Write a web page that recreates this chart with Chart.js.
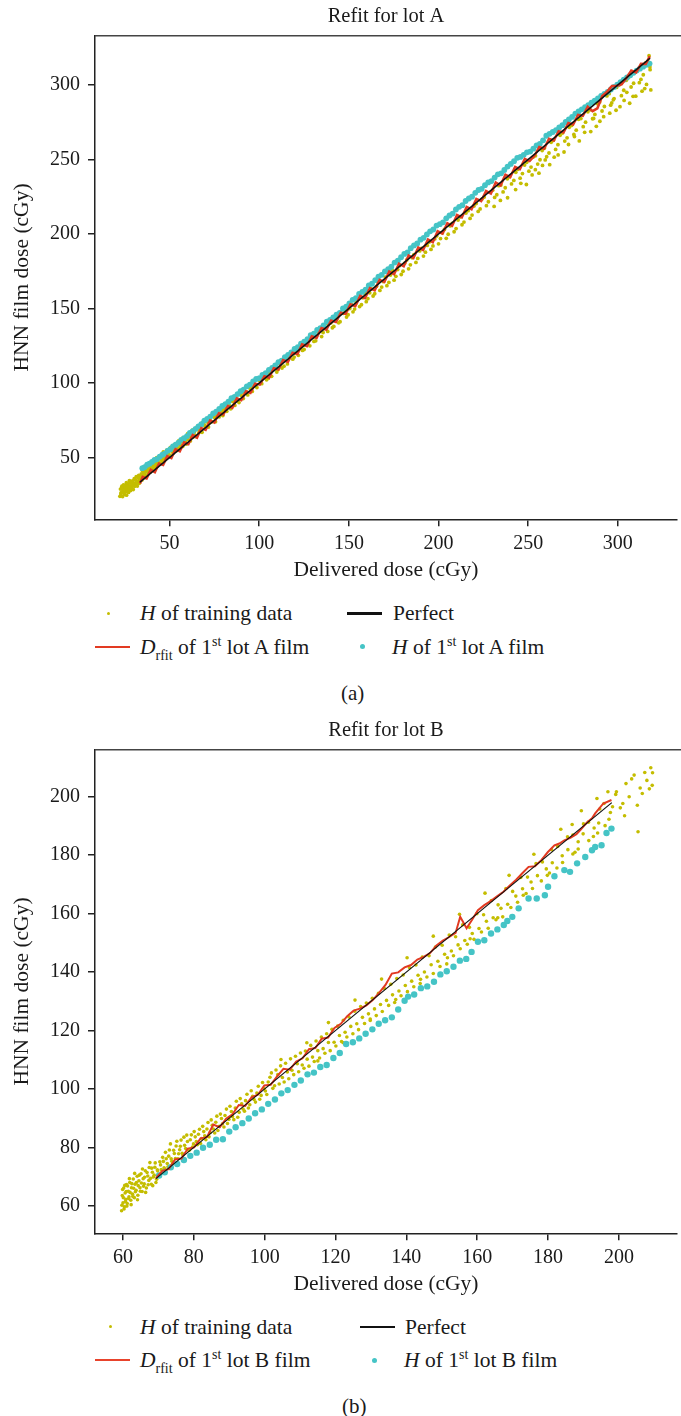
<!DOCTYPE html>
<html>
<head>
<meta charset="utf-8">
<title>Refit for lot A / lot B</title>
<script src="https://cdn.jsdelivr.net/npm/chart.js@4.4.1/dist/chart.umd.min.js"></script>
<style>
  html, body { margin: 0; padding: 0; background: #fff; }
  body {
    width: 681px; height: 1416px; position: relative; overflow: hidden;
    font-family: "Liberation Serif", "Times New Roman", serif; color: #1a1a1a;
  }
  canvas { position: absolute; left: 0; }
  #chartA { top: 0; }
  #chartB { top: 714px; }
  .lg { position: absolute; font-size: 21.5px; line-height: 24px; white-space: nowrap; }
  .lg i { font-style: italic; }
  .lg .sb { font-size: 14px; position: relative; top: 6px; line-height: 0; }
  .lg .sp { font-size: 14px; position: relative; top: -8px; line-height: 0; }
  .dot { position: absolute; border-radius: 50%; }
  .ln { position: absolute; }
  .cap { position: absolute; font-size: 21px; line-height: 24px; }
</style>
</head>
<body>

<canvas id="chartA" width="681" height="590"></canvas>
<canvas id="chartB" width="681" height="590"></canvas>

<!-- legend (a) -->
<span class="dot" style="left:107px; top:611.5px; width:3px; height:3px; background:#c4bd00"></span>
<span class="lg" style="left:140px; top:601px"><i>H</i> of training data</span>
<span class="ln" style="left:347px; top:612px; width:35px; height:2.5px; background:#111"></span>
<span class="lg" style="left:393px; top:601px">Perfect</span>
<span class="ln" style="left:95px; top:645.5px; width:35px; height:2.5px; background:#e23a22"></span>
<span class="lg" style="left:140px; top:635px"><i>D</i><span class="sb">rfit</span> of 1<span class="sp">st</span> lot A film</span>
<span class="dot" style="left:359.5px; top:644px; width:5px; height:5px; background:#45c4c6"></span>
<span class="lg" style="left:392px; top:635px"><i>H</i> of 1<span class="sp">st</span> lot A film</span>
<span class="cap" style="left:341px; top:681px">(a)</span>

<!-- legend (b) -->
<span class="dot" style="left:108.5px; top:1325px; width:3px; height:3px; background:#c4bd00"></span>
<span class="lg" style="left:140px; top:1315px"><i>H</i> of training data</span>
<span class="ln" style="left:360px; top:1326px; width:35px; height:1.5px; background:#111"></span>
<span class="lg" style="left:405px; top:1315px">Perfect</span>
<span class="ln" style="left:95px; top:1359px; width:35px; height:1.5px; background:#e8432c"></span>
<span class="lg" style="left:140px; top:1348px"><i>D</i><span class="sb">rfit</span> of 1<span class="sp">st</span> lot B film</span>
<span class="dot" style="left:372px; top:1357.5px; width:5px; height:5px; background:#45c4c6"></span>
<span class="lg" style="left:404px; top:1348px"><i>H</i> of 1<span class="sp">st</span> lot B film</span>
<span class="cap" style="left:342px; top:1394px">(b)</span>

<script>
// ---------- data: [delivered dose, HNN film dose] in cGy ----------

// panel (a)
const trainA = [
  [22.3,24.0],[22.6,28.9],[23.0,26.5],[23.4,30.8],[23.8,23.9],[24.1,27.7],[24.5,29.6],[24.9,25.3],
  [25.2,31.4],[25.6,27.2],[26.0,24.8],[26.3,29.9],[26.7,32.1],[27.1,26.6],[27.5,29.1],[27.8,33.0],
  [28.2,27.9],[28.6,31.2],[29.0,29.4],[29.3,34.3],[29.7,28.6],[30.1,32.5],[30.5,30.7],[30.8,35.4],
  [31.2,31.6],[31.6,33.9],[32.0,30.9],[32.3,36.8],[32.7,34.5],[33.1,32.7],[33.5,37.6],[33.8,35.1],
  [34.2,39.0],[34.6,34.9],[35.0,37.8],[35.4,40.6],[35.7,36.4],[36.1,39.3],[36.5,42.0],[36.9,37.7],
  [37.3,40.9],[37.6,43.4],[38.0,39.6],[38.4,42.7],[38.8,44.1],[39.2,40.4],[39.6,43.8],[40.0,46.0],
  [40.4,41.9],[40.8,45.1],[41.3,47.2],[41.7,43.4],[42.1,46.5],[42.6,48.8],[43.0,44.7],[43.5,47.6],
  [43.9,50.1],[44.4,46.0],[44.8,49.2],[45.3,51.0],[45.8,47.5],[46.2,50.4],[46.7,52.6],[47.2,48.9],
  [47.7,51.7],[48.2,53.9],[48.7,50.2],[49.2,53.0],[49.7,55.1],[50.2,51.6],[50.8,54.5],[51.3,56.7],
  [51.9,53.0],[52.4,55.8],[53.0,57.9],[53.6,54.6],[54.2,57.3],[54.8,59.4],[55.4,56.0],[56.0,58.8],
  [56.7,61.0],[57.3,57.5],[58.0,60.6],[58.7,62.4],[59.4,59.1],[60.1,62.2],[60.8,64.3],[61.6,61.2],
  [62.3,66.0],[63.1,63.8],[63.9,67.5],[64.7,64.1],[65.5,69.3],[66.4,66.9],[67.2,70.6],[68.1,67.0],
  [69.0,72.4],[69.9,70.8],[70.8,73.9],[71.7,70.5],[72.7,76.2],[73.6,74.0],[74.6,77.8],[75.6,74.1],
  [76.6,79.9],[77.6,77.3],[78.7,81.4],[79.7,78.2],[80.8,83.9],[81.9,81.0],[83.0,85.2],[84.1,82.7],
  [85.2,87.6],[86.4,85.0],[87.5,89.3],[88.7,86.9],[89.9,91.8],[91.1,89.6],[92.3,93.7],[93.6,92.0],
  [94.8,96.5],[96.1,94.4],[97.4,98.9],[98.7,97.0],[100.0,101.8],[101.4,99.6],[102.7,103.5],[104.1,102.2],
  [105.5,106.8],[106.9,104.5],[108.3,109.6],[109.8,107.4],[111.2,112.9],[112.7,110.1],[114.2,115.5],[115.7,112.8],
  [117.2,118.4],[118.7,116.0],[120.3,121.7],[121.8,118.6],[123.4,124.2],[125.0,122.5],[126.6,127.9],[128.2,125.0],
  [129.8,130.6],[131.5,128.3],[133.1,134.2],[134.8,131.2],[136.5,137.9],[138.2,134.6],[139.9,140.3],[141.6,138.0],
  [143.4,143.5],[145.1,141.2],[146.9,146.8],[148.7,144.3],[150.5,150.0],[152.3,147.8],[154.1,153.9],[156.0,151.3],
  [157.8,157.2],[159.7,154.6],[161.6,160.5],[163.5,158.4],[165.4,164.9],[167.3,162.1],[169.3,168.0],[171.2,165.3],
  [173.2,172.4],[175.2,169.0],[177.2,176.1],[179.2,172.8],[181.2,180.5],[183.3,176.6],[185.3,184.0],[187.4,180.9],
  [189.5,188.6],[191.6,185.2],[193.7,192.3],[195.8,189.6],[197.9,196.7],[200.0,193.4],[202.2,200.8],[204.3,197.1],
  [206.5,205.4],[208.7,201.5],[210.9,209.3],[213.1,206.2],[215.3,214.0],[217.6,210.4],[219.8,218.7],[222.1,215.1],
  [224.4,223.6],[226.7,219.0],[229.0,228.1],[231.3,224.5],[233.6,232.4],[236.0,228.2],[238.4,237.0],[240.7,233.6],
  [243.1,241.4],[245.5,237.4],[248.0,246.2],[250.4,242.1],[252.8,251.6],[255.3,246.9],[257.8,256.0],[260.3,251.8],
  [262.8,261.5],[265.3,256.7],[267.8,266.2],[270.4,262.3],[272.9,271.6],[275.5,266.8],[278.1,276.9],[280.7,272.0],
  [283.3,282.0],[285.9,277.3],[288.6,287.4],[291.2,282.5],[293.9,292.6],[296.6,287.9],[299.3,298.3],[302.0,292.8],
  [304.7,303.1],[307.4,298.6],[310.2,309.5],[312.9,303.7],[315.6,314.7],[317.4,319.6],[318.0,310.2],
  [22.8,25.6],[23.2,29.4],[23.7,27.0],[24.3,31.6],[24.7,26.3],[25.4,29.0],[25.9,33.2],[26.5,27.9],
  [27.0,31.0],[27.6,34.6],[28.0,30.2],[28.8,33.5],[29.5,31.6],[30.3,35.8],[30.9,33.1],[31.4,37.2],
  [32.1,32.9],[32.8,38.1],[33.3,35.9],[34.0,36.8],[34.8,41.4],[35.5,38.9],[36.3,41.2],[37.0,44.6],
  [37.8,41.5],[38.6,45.9],[39.4,42.2],[40.2,44.0],[41.0,48.3],[41.9,45.6],[42.8,50.0],[43.7,46.3],
  [44.6,50.9],[45.5,48.9],[46.5,53.8],[47.4,50.3],[48.4,55.0],[49.4,51.8],[50.5,56.9],[51.6,54.2],
  [52.7,58.6],[53.8,56.5],[55.0,61.2],[56.2,58.0],[57.5,63.3],[58.8,60.5],[60.1,66.0],[61.3,63.9],
  [62.7,68.4],[64.0,65.2],[65.4,70.5],[66.9,68.2],[68.3,73.4],[69.7,71.6],[71.2,75.6],[72.2,73.3],
  [73.9,78.6],[75.1,76.9],[76.1,78.0],[77.9,81.7],[79.2,80.9],[80.3,82.2],[82.4,86.4],[83.6,84.7],
  [86.0,88.9],[87.9,88.1],[90.5,93.9],[92.9,94.1],[95.5,97.8],[97.9,98.0],[99.3,102.6],
  [103.4,105.9],[105.0,103.1],[107.6,108.7],[110.4,109.0],[112.0,114.6],[113.8,111.3],[116.4,117.6],[119.5,117.4],
  [121.1,123.8],[124.1,121.9],[127.4,129.2],[130.5,127.9],[132.3,134.8],[135.6,133.9],[137.9,139.8],[140.8,137.1],
  [142.5,144.6],[144.3,140.4],[147.8,148.7],[149.6,145.8],[151.4,153.0],[153.2,149.6],[155.0,156.5],[157.0,152.6],
  [158.8,160.3],[160.6,156.6],[162.5,163.2],[164.4,159.9],[166.3,167.6],[168.3,164.4],[170.3,171.1],[172.3,167.5],
  [174.3,175.5],[176.2,171.6],[178.2,178.7],[180.2,175.0],[182.3,182.6],[184.3,179.3],[186.3,186.2],[188.4,183.6],
  [190.5,190.4],[192.7,187.8],[194.8,194.6],[196.9,192.0],[199.0,198.7],[201.1,196.9],
  [203.3,203.0],[205.4,199.8],[207.6,207.1],[209.8,203.6],[212.0,211.4],[214.2,208.0],[216.5,215.6],[218.7,212.7],
  [221.0,220.4],[223.2,216.8],[225.5,224.8],[227.8,221.6],[230.2,229.4],[232.5,226.3],[234.8,232.9],[237.2,231.0],
  [239.6,238.4],[242.0,235.9],[244.3,243.4],[246.8,240.5],[249.2,248.1],[251.6,244.9],[254.1,252.4],[256.6,249.8],
  [259.1,257.6],[261.6,254.3],[264.1,262.8],[266.6,259.9],[269.1,267.7],[271.7,264.5],[274.2,272.8],[276.8,269.6],
  [279.4,277.4],[282.0,275.0],[284.6,283.3],[287.2,280.2],[289.9,288.6],[292.5,285.5],[295.2,294.1],[297.9,290.8],
  [300.6,299.7],[303.3,296.4],[306.0,304.9],[308.8,301.1],[311.5,310.4],[314.2,306.8],[316.8,315.6],[317.9,312.0],
  // lower, sparser band at the high end
  [231.0,218.5],[238.5,224.3],[245.9,234.0],[249.0,233.2],[252.2,239.6],[256.0,240.8],[259.5,249.7],[262.0,246.5],
  [266.7,253.0],[270.0,255.0],[275.8,265.3],[278.5,262.4],[284.9,268.7],[288.0,272.2],[292.1,278.7],[295.5,281.0],
  [301.2,285.4],[303.5,289.6],[306.6,287.7],[310.0,292.4],[313.5,295.8],[316.0,300.3],[318.4,296.6],[312.0,301.5],
  [297.5,290.0],[243.0,229.8],[254.0,243.1],[264.5,251.5],[272.5,260.0],[281.5,268.2],[290.0,275.6],[299.0,283.0],
  [308.5,292.3],[315.0,297.5],[286.5,277.5],[296.0,286.4],[305.0,295.0],[258.0,246.0],[234.5,222.5]
];

const lotA = [
  [34.8,42.9],[36.1,43.6],[37.5,45.2],[38.8,45.9],[40.2,47.1],[41.6,48.4],[43.0,49.0],[44.5,50.6],
  [46.0,51.9],[47.4,52.7],[48.9,54.5],[50.4,55.6],[51.9,57.5],[53.4,58.6],[55.0,60.1],[56.5,61.9],
  [58.1,63.0],[59.7,64.4],[61.3,66.5],[62.9,67.7],[64.5,69.3],[66.1,71.0],[67.7,72.4],[69.4,74.8],
  [71.0,75.9],[72.7,77.5],[74.3,79.6],[76.0,80.8],[77.7,82.7],[79.4,84.6],[81.1,85.9],[82.8,87.5],
  [84.5,89.8],[86.2,90.7],[87.9,92.6],[89.6,94.5],[91.3,95.6],[93.1,97.8],[94.8,99.0],[96.6,101.1],
  [98.3,102.7],[100.1,103.3],[101.8,105.5],[103.6,106.6],[105.4,108.9],[107.2,110.2],[108.9,111.8],[110.7,114.0],
  [112.5,115.1],[114.3,117.4],[116.1,118.9],[117.9,120.5],[119.7,122.9],[121.5,124.0],[123.3,126.4],[125.1,127.8],
  [126.9,129.4],[128.7,132.1],[130.5,133.2],[132.3,135.6],[134.1,136.9],[135.9,138.6],[137.7,141.2],[139.5,142.3],
  [141.3,144.0],[143.1,145.9],[144.9,147.1],[146.7,150.0],[148.5,151.3],[150.3,153.5],[152.1,155.8],[153.9,156.9],
  [155.7,159.8],[157.5,161.1],[159.3,162.7],[161.1,165.5],[162.9,166.6],[164.7,169.1],[166.5,171.4],[168.3,172.6],
  [170.1,174.9],[171.9,176.4],[173.7,178.0],[175.5,180.8],[177.3,182.1],[179.1,184.4],[180.9,186.6],[182.7,187.7],
  [184.5,190.5],[186.3,192.3],[188.1,193.6],[189.9,196.2],[191.7,197.4],[193.5,199.7],[195.3,201.8],[197.1,203.0],
  [198.9,205.6],[200.7,206.6],[202.5,207.8],[204.3,210.5],[206.1,212.4],[207.9,213.7],[209.7,216.4],[211.5,218.2],
  [213.3,219.3],[215.1,222.1],[216.9,223.8],[218.7,225.0],[220.5,227.6],[222.3,229.5],[224.1,230.3],[225.9,232.7],
  [227.7,234.6],[229.5,235.5],[231.3,237.8],[233.1,240.0],[234.9,240.7],[236.7,242.9],[238.5,245.2],[240.3,247.0],
  [242.1,248.8],[243.9,251.1],[245.7,251.7],[247.5,253.1],[249.3,254.8],[251.1,255.3],[252.9,257.2],[254.7,259.4],
  [256.5,260.5],[258.3,262.8],[260.1,265.9],[261.9,267.2],[263.7,268.4],[265.5,269.7],[267.3,271.5],[269.1,273.0],
  [270.9,275.1],[272.7,276.8],[274.5,278.5],[276.3,280.7],[278.1,282.2],[279.9,283.6],[281.7,285.0],[283.5,286.4],
  [285.3,288.1],[287.1,289.5],[288.9,290.9],[290.7,292.6],[292.5,294.0],[294.3,295.3],[296.1,296.9],[297.9,298.6],
  [299.7,300.2],[301.5,301.8],[303.3,303.5],[305.1,305.0],[306.9,306.4],[308.7,308.1],[310.5,309.6],[312.3,310.9],
  [314.1,312.2],[315.9,313.5],[317.7,314.3]
];

const fitA = [
  [33.5,32.6],[35.0,37.0],[37.2,36.0],[39.5,41.8],[41.8,40.2],[44.1,46.0],[46.4,45.1],[48.7,50.9],
  [51.0,49.6],[53.3,55.6],[55.7,54.2],[58.1,60.2],[60.5,59.0],[62.9,65.1],[65.3,63.4],[67.7,69.8],
  [70.1,68.6],[72.6,74.9],[75.0,73.5],[77.5,79.7],[80.0,78.9],[82.5,84.6],[85.0,83.4],[87.5,89.7],
  [90.0,88.5],[92.6,94.4],[95.1,93.3],[97.7,99.6],[100.3,98.9],[102.9,104.5],[105.5,103.6],[108.1,110.0],
  [110.7,109.1],[113.3,115.4],[116.0,114.2],[118.6,120.3],[121.3,119.4],[123.9,126.0],[126.6,124.7],[129.3,131.3],
  [132.0,130.2],[134.7,136.9],[137.4,135.8],[140.1,141.9],[142.8,140.9],[145.5,147.2],[148.2,146.4],[150.9,152.8],
  [153.6,151.5],[156.3,158.4],[159.0,157.0],[161.7,163.7],[164.4,162.2],[167.1,169.2],[169.8,167.9],[172.5,174.8],
  [175.2,173.0],[177.9,180.1],[180.6,178.3],[183.3,185.5],[186.0,183.8],[188.7,190.9],[191.4,189.2],[194.1,196.3],
  [196.8,194.5],[199.5,201.8],[202.2,200.3],[204.9,207.2],[207.6,205.5],[210.3,212.7],[213.0,211.2],[215.7,218.1],
  [218.4,216.5],[221.1,223.5],[223.8,222.0],[226.5,228.8],[229.2,227.1],[231.9,234.5],[234.6,232.6],[237.3,239.8],
  [240.0,238.2],[242.7,245.0],[245.4,243.5],[248.1,250.4],[250.8,248.9],[253.5,252.4],[256.2,258.3],[258.9,257.2],
  [261.6,263.8],[264.3,262.7],[267.0,269.0],[269.7,268.1],[272.4,274.4],[275.1,273.4],[277.8,279.9],[280.5,279.3],
  [283.2,285.3],[285.9,282.4],[288.6,284.3],[291.3,292.6],[294.0,295.5],[296.7,299.2],[299.4,299.4],[302.1,300.3],
  [304.8,304.6],[307.5,309.6],[310.2,308.3],[312.9,314.1],[315.6,314.0],[317.8,319.3]
];

const perfectA = [[33.5,33.5],[318,318]];
const xTicksA = [50, 100, 150, 200, 250, 300];
const yTicksA = [50, 100, 150, 200, 250, 300];

// panel (b)
const trainB = [
  [59.6,58.3],[59.8,63.5],[60.0,61.0],[60.2,66.1],[60.4,59.7],[60.6,64.4],[60.8,62.2],[61.0,67.3],
  [61.2,60.8],[61.5,65.0],[61.7,63.1],[61.9,68.0],[62.2,61.9],[62.4,66.2],[62.7,64.0],[62.9,69.2],
  [63.2,62.8],[63.4,67.4],[63.7,65.3],[64.0,70.1],[64.2,63.6],[64.5,68.6],[64.8,66.2],[65.1,71.0],
  [65.4,64.9],[65.7,69.3],[66.0,67.5],[66.3,72.0],[66.6,66.1],[67.0,70.2],[67.3,68.7],[67.6,74.8],
  [68.0,67.4],[68.3,71.5],[68.6,69.9],[69.0,73.2],[69.3,68.0],[69.7,72.3],[70.0,70.6],[70.4,75.1],
  [59.7,60.2],[59.9,65.6],[60.1,62.8],[60.3,58.9],[60.5,67.0],[60.7,61.5],[60.9,64.9],[61.1,59.9],
  [61.3,66.8],[61.6,62.5],[61.8,69.3],[62.0,64.6],[62.3,60.4],[62.5,67.6],[62.8,63.2],[63.0,66.0],
  [63.3,71.1],[63.5,64.8],[63.8,68.0],[64.1,62.1],[64.3,66.9],[64.6,70.5],[64.9,65.0],[65.2,67.8],
  [65.5,72.6],[65.8,66.7],[66.1,69.8],[66.4,64.6],[66.8,71.4],[67.1,67.2],[67.4,73.1],[67.8,69.4],
  [68.1,72.9],[68.4,66.9],[68.8,70.5],[69.1,74.7],[69.5,69.1],[69.8,71.9],
  [70.8,72.4],[71.2,76.6],[71.6,73.0],[72.0,78.3],[72.5,74.5],[72.9,77.0],[73.4,81.2],[73.8,75.3],
  [74.3,79.0],[74.8,76.2],[75.2,82.1],[75.7,77.8],[76.2,80.4],[76.7,78.0],[77.2,83.5],[77.7,79.6],
  [78.2,82.0],[78.8,79.1],[79.3,84.3],[79.9,81.2],[80.4,83.6],[81.0,80.9],[81.6,86.2],[82.2,83.0],
  [82.8,85.4],[83.4,82.6],[84.0,88.5],[84.6,85.1],[85.2,87.6],[85.9,84.9],[86.5,90.7],[87.2,87.2],
  [87.8,89.9],[88.5,87.0],[89.2,93.1],[89.9,89.6],[90.6,92.3],[91.3,89.5],[92.0,95.8],[92.8,92.0],
  [93.5,94.9],[94.3,92.4],[95.0,98.2],[95.8,94.6],[96.6,97.5],[97.4,95.5],[98.2,100.9],[99.0,97.8],
  [99.8,100.2],[100.6,98.1],
  [70.6,74.0],[71.0,71.3],[71.4,75.2],[71.8,72.6],[72.2,76.1],[72.7,73.4],[73.1,79.1],[73.6,76.1],
  [74.0,74.4],[74.5,77.9],[75.0,80.5],[75.5,76.1],[76.0,79.2],[76.4,82.5],[76.9,77.4],[77.4,80.7],
  [78.0,84.2],[78.5,79.0],[79.0,82.6],[79.6,80.1],[80.1,85.4],[80.7,82.0],[81.3,84.5],[81.9,81.3],
  [82.5,87.2],[83.1,84.0],[83.7,86.3],[84.3,83.6],[84.9,89.4],[85.5,86.3],[86.2,88.6],[86.8,85.8],
  [87.5,91.4],[88.1,88.1],[88.8,90.9],[89.5,88.2],[90.2,94.1],[90.9,90.6],[91.7,93.5],[92.4,90.3],
  [93.1,96.7],[93.9,93.1],[94.6,96.0],[95.4,93.5],[96.2,99.4],[97.0,96.4],[97.8,98.6],[98.6,96.5],
  [99.4,102.2],[100.2,99.3],
  [101.5,104.0],[102.3,100.2],[103.2,106.5],[104.1,101.7],[105.0,103.9],[105.9,108.8],[106.8,103.5],[107.7,106.4],
  [108.7,111.2],[109.6,105.9],[110.6,108.2],[111.5,113.0],[112.5,107.8],[113.5,110.9],[114.5,116.4],[115.5,110.6],
  [116.5,113.8],[117.5,118.9],[118.5,113.1],[119.6,116.0],[120.6,121.5],[121.7,116.2],[122.7,119.4],[123.8,124.6],
  [124.9,118.9],[126.0,122.3],[127.1,128.2],[128.2,122.4],[129.3,125.7],[130.4,131.0],[131.5,125.1],[132.7,128.9],
  [133.8,134.4],[135.0,128.6],[136.1,132.2],[137.3,137.8],[138.5,131.9],[139.7,135.4],[140.9,141.5],[142.1,135.0],
  [143.3,138.9],[144.5,145.1],[145.8,138.3],[147.0,142.5],[148.2,148.6],[149.5,141.9],[150.8,146.1],[152.1,152.7],
  [153.3,145.6],[154.6,149.3],[155.9,156.2],[157.2,149.5],[158.6,153.2],[159.9,160.0],[161.2,153.7],[162.6,157.4],
  [164.0,164.5],[165.3,157.9],[166.7,161.8],[168.1,168.6],[169.5,162.1],[170.9,166.0],[172.3,172.4],[173.8,166.9],
  [175.2,170.8],[176.6,177.1],[178.1,171.2],[179.5,175.3],[181.0,181.9],[182.5,175.6],[184.0,179.8],[185.5,186.3],
  [187.0,180.4],[188.5,184.6],[190.0,190.7],[191.5,185.0],[193.0,189.3],[194.6,195.8],[196.1,190.1],[197.6,194.6],
  [199.1,200.8],
  [101.0,102.4],[101.9,105.5],[102.8,101.1],[103.7,104.9],[104.5,107.9],[105.5,102.4],[106.4,105.8],[107.3,110.3],
  [108.2,104.9],[109.2,108.6],[110.1,112.3],[111.1,107.1],[112.0,110.2],[113.0,114.9],[114.0,109.4],[115.0,113.1],
  [116.0,117.8],[117.0,112.2],[118.0,115.9],[119.0,120.4],[120.1,114.7],[121.1,118.3],[122.2,123.5],[123.2,117.8],
  [124.3,121.4],[125.4,126.6],[126.5,120.3],[127.6,124.5],[128.7,129.4],[129.8,123.9],[131.0,127.4],[132.1,132.7],
  [133.2,126.5],[134.4,130.3],[135.6,135.8],[136.7,129.6],[137.9,133.5],[139.1,139.0],[140.3,133.3],[141.5,136.9],
  [142.7,142.4],[143.9,136.1],[145.1,140.0],[146.4,145.6],[147.6,139.5],[148.9,143.7],[150.1,149.2],[151.4,142.8],
  [152.7,147.2],[153.9,152.1],[155.2,148.0],[156.5,150.8],[157.8,155.3],[159.1,151.2],[160.5,154.9],[161.8,159.6],
  [163.1,155.0],[164.5,158.6],[165.9,163.0],[167.2,158.9],[168.6,163.2],[170.0,167.6],[171.4,163.9],[172.8,168.5],
  [174.2,172.5],[175.6,168.6],[177.0,173.0],[178.4,177.7],[179.8,173.1],[181.2,177.4],[182.7,183.0],[184.1,177.5],
  [185.6,181.9],[187.0,186.9],[188.5,182.1],[189.9,187.3],[191.4,191.3],[192.8,186.4],[194.3,191.0],[195.8,197.7],
  [197.2,192.3],[198.2,196.6],
  [104.6,110.1],[111.9,115.8],[118.0,122.7],[125.5,130.4],[133.0,137.6],[140.2,144.9],[147.6,152.3],[155.0,159.8],
  [162.2,167.0],[169.0,173.1],[176.0,180.3],[183.6,188.9],[189.4,195.2],[193.8,199.4],[196.9,201.7],[186.8,190.5],
  [115.0,109.6],[122.2,115.8],[129.8,123.4],[137.0,130.6],[144.0,137.5],[151.6,144.9],[158.0,151.4],[165.8,158.6],
  [173.0,166.3],[180.4,173.9],[187.6,181.0],[194.0,187.6],
  // sparse cloud past the end of the fit
  [199.3,201.7],[200.4,196.2],[201.1,197.7],[202.0,204.5],[202.9,200.0],[203.6,206.1],[204.3,207.4],[205.2,197.1],
  [205.4,188.0],[206.0,203.0],[206.6,201.1],[207.3,208.3],[207.9,205.6],[208.6,202.7],[209.0,209.9],[209.4,203.9],
  [209.5,208.2],[201.6,193.5]
];

const lotB = [
  [70.2,70.4],[71.8,71.5],[73.5,73.2],[75.3,74.3],[77.2,75.7],[79.0,77.1],[80.8,78.2],[82.6,79.9],
  [84.5,80.9],[86.3,82.6],[88.2,82.8],[90.0,85.4],[91.8,86.9],[93.7,88.3],[95.5,89.9],[97.3,91.7],
  [99.2,93.0],[101.0,94.9],[102.9,96.4],[104.7,98.5],[106.5,99.6],[108.4,101.4],[110.2,102.9],[112.1,105.0],
  [113.9,105.6],[115.7,107.5],[117.5,108.2],[119.4,110.6],[121.2,112.3],[123.0,115.4],[124.9,116.0],[126.7,117.3],
  [128.5,118.9],[130.4,120.4],[132.2,122.3],[134.0,123.5],[135.9,124.5],[137.7,127.2],[139.5,130.2],[140.5,131.6],
  [142.2,132.3],[144.1,134.5],[145.9,135.1],[147.8,136.7],[149.6,139.2],[151.4,140.3],[153.3,141.8],[155.1,143.9],
  [156.9,144.5],[158.4,146.9],[160.2,150.4],[162.0,150.9],[163.9,153.2],[165.7,154.6],[167.5,156.1],[168.5,157.5],
  [169.9,158.9],[171.7,161.8],[174.5,165.2],[176.8,165.2],[179.1,166.3],[180.0,169.2],[181.8,172.8],[184.6,174.9],
  [186.2,174.3],[188.2,177.2],[190.5,179.4],[192.4,181.7],[193.3,182.8],[195.1,183.4],[196.5,187.6],[197.9,189.1]
];

const fitB = [
  [69.3,69.5],[71.1,72.0],[72.9,72.6],[74.7,75.9],[76.5,76.2],[78.3,79.6],[80.1,80.0],[81.9,83.1],
  [83.7,83.5],[85.5,87.8],[87.3,86.9],[89.1,89.8],[90.9,91.3],[92.7,94.5],[94.5,94.2],[96.3,97.1],
  [98.1,98.0],[99.9,101.2],[101.7,101.4],[103.5,104.3],[105.3,106.9],[107.1,106.6],[108.9,109.4],[110.7,110.5],
  [112.5,113.6],[114.3,114.0],[116.1,117.2],[117.9,117.6],[119.7,120.9],[121.5,122.3],[123.3,124.9],[125.1,126.8],
  [126.9,127.5],[128.7,128.6],[130.5,130.4],[132.3,132.9],[134.1,135.6],[135.9,139.5],[137.7,139.9],[139.5,141.6],
  [141.3,142.4],[143.1,144.3],[144.9,145.2],[146.7,146.5],[148.5,149.1],[150.3,150.8],[152.1,152.0],[153.9,153.4],
  [155.2,158.9],[157.0,155.0],[158.6,158.0],[160.2,161.2],[162.0,162.9],[163.8,164.3],[165.6,165.9],[167.4,167.5],
  [169.2,169.6],[171.0,171.6],[172.8,173.9],[174.5,176.0],[176.3,176.2],[178.1,178.3],[179.9,181.0],[181.8,183.4],
  [183.2,184.0],[184.6,185.1],[186.4,186.0],[188.0,187.2],[189.1,188.6],[190.9,191.1],[192.4,192.6],[193.3,194.3],
  [195.6,197.7],[197.9,198.9]
];

const perfectB = [[69.3,69.3],[198,198]];
const xTicksB = [60, 80, 100, 120, 140, 160, 180, 200];
const yTicksB = [60, 80, 100, 120, 140, 160, 180, 200];

// ---------- colours ----------
const YELLOW = '#c4bd00';
const CYAN = '#45c4c6';
const RED = '#e23a22';
const INK = '#1a1a1a';
const FONT = '"Liberation Serif", "Times New Roman", serif';

Chart.defaults.font.family = FONT;
Chart.defaults.font.size = 20;
Chart.defaults.color = INK;

// the figure is cropped on the right, so only the top edge of the frame is drawn here
const topBorder = {
  id: 'topBorder',
  afterDraw(chart) {
    const { ctx, chartArea } = chart;
    ctx.save();
    ctx.strokeStyle = '#444';
    ctx.lineWidth = 1.5;
    ctx.beginPath();
    ctx.moveTo(chartArea.left, chartArea.top);
    ctx.lineTo(chart.width, chartArea.top);
    ctx.stroke();
    ctx.restore();
  }
};

function toXY(pairs) {
  return pairs.map(p => ({ x: p[0], y: p[1] }));
}

function axis(min, max, ticks, title, isX) {
  return {
    type: 'linear',
    min: min,
    max: max,
    afterBuildTicks: (scale) => { scale.ticks = ticks.map(v => ({ value: v })); },
    afterFit: (scale) => {
      if (isX) scale.height = 590 - 519.3;
      else scale.width = 95;
    },
    border: { display: true, color: '#222', width: 1.5 },
    grid: { display: true, drawOnChartArea: false, drawTicks: true, tickLength: 7, color: '#222', lineWidth: 1.5 },
    ticks: { autoSkip: false, maxRotation: 0, padding: isX ? 5 : 8, color: INK, font: { size: 20 } },
    title: {
      display: true,
      text: title,
      color: INK,
      font: { size: 21.5 },
      padding: isX ? { top: 0, bottom: 7 } : { top: 9, bottom: 0 }
    }
  };
}

function buildPanel(id, p) {
  const ctx = document.getElementById(id).getContext('2d');
  return new Chart(ctx, {
    type: 'scatter',
    data: {
      datasets: [
        { label: 'Perfect', data: toXY(p.perfect), showLine: true, borderColor: '#111', borderWidth: p.blackW,
          pointRadius: 0, order: 0 },
        { label: 'D rfit', data: toXY(p.fit), showLine: true, borderColor: RED, borderWidth: p.redW,
          pointRadius: 0, order: 1 },
        { label: 'H of 1st lot film', data: toXY(p.lot), backgroundColor: CYAN, borderWidth: 0,
          pointRadius: p.lotR, order: 2 },
        { label: 'H of training data', data: toXY(p.train), backgroundColor: YELLOW, borderWidth: 0,
          pointRadius: p.trainR, order: 3 }
      ]
    },
    options: {
      responsive: false,
      animation: false,
      devicePixelRatio: 1,
      layout: { padding: { left: 0, right: -11, top: 0, bottom: 0 } },
      plugins: {
        legend: { display: false },
        tooltip: { enabled: false },
        title: {
          display: true,
          text: p.title,
          fullSize: false,
          color: INK,
          font: { size: 20.5, weight: 'normal' },
          padding: { top: 4.5, bottom: 6.6 }
        }
      },
      scales: {
        x: axis(p.xMin, p.xMax, p.xTicks, 'Delivered dose (cGy)', true),
        y: axis(p.yMin, p.yMax, p.yTicks, 'HNN film dose (cGy)', false)
      }
    },
    plugins: [topBorder]
  });
}

buildPanel('chartA', {
  title: 'Refit for lot A',
  train: trainA, lot: lotA, fit: fitA, perfect: perfectA,
  xTicks: xTicksA, yTicks: yTicksA,
  xMin: 8.4, xMax: 333, yMin: 8.6, yMax: 333,
  blackW: 1.5, redW: 2.5, lotR: 2.9, trainR: 1.9
});

buildPanel('chartB', {
  title: 'Refit for lot B',
  train: trainB, lot: lotB, fit: fitB, perfect: perfectB,
  xTicks: xTicksB, yTicks: yTicksB,
  xMin: 52.1, xMax: 216.4, yMin: 50.6, yMax: 216.1,
  blackW: 1.2, redW: 2, lotR: 3.2, trainR: 1.8
});
</script>
</body>
</html>
